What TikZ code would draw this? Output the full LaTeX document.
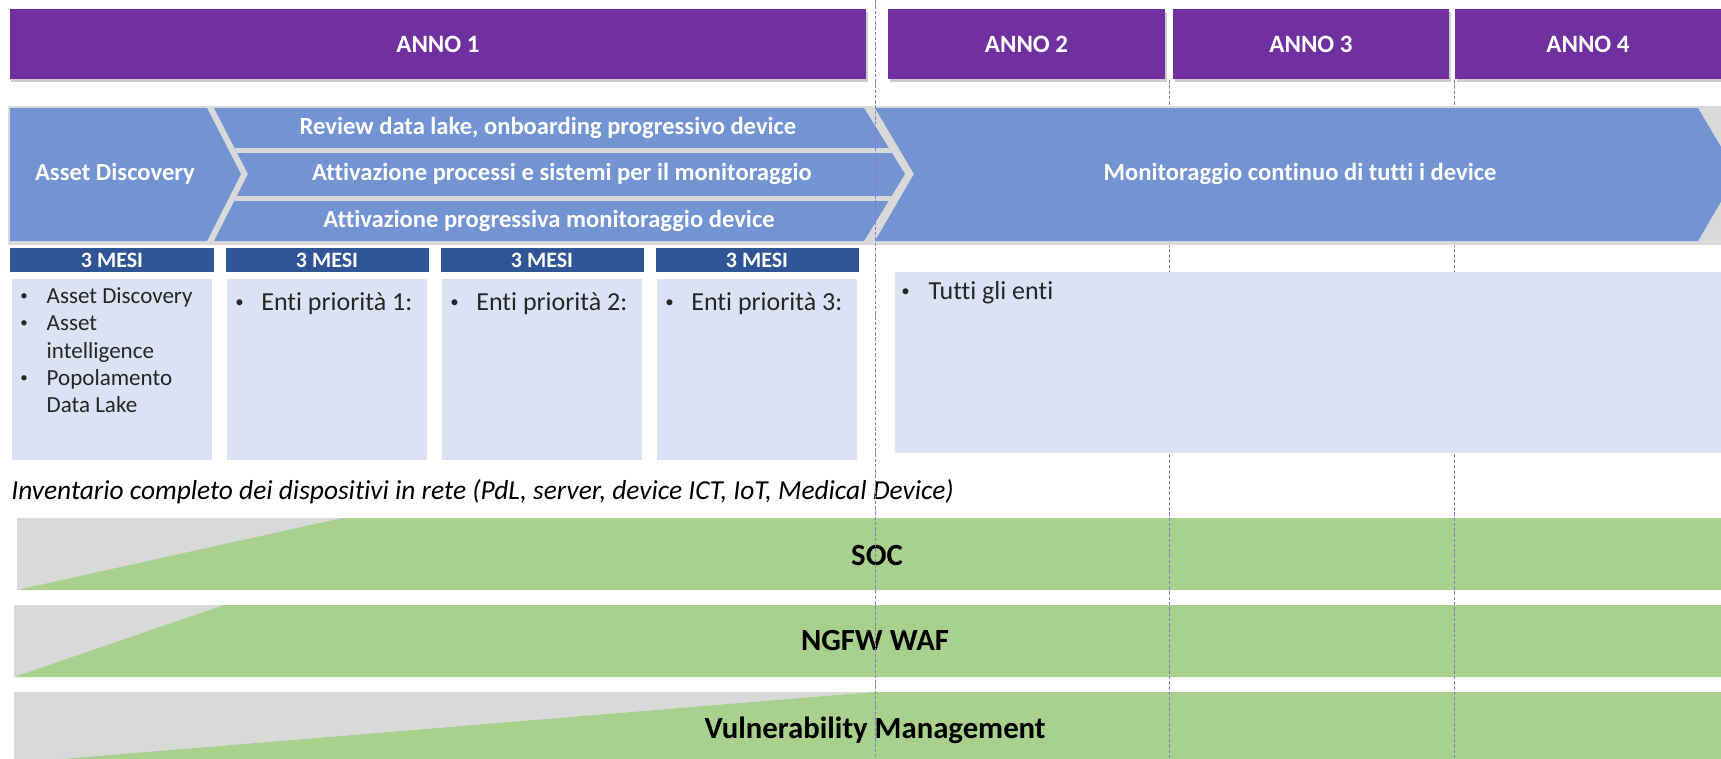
\documentclass[tikz,border=0pt]{standalone}
\usepackage{fontspec}
\usepackage{graphicx}
\setmainfont{Carlito}[Ligatures=NoCommon]
\usetikzlibrary{shapes,shadows,positioning,calc}
\definecolor{annopurple}{HTML}{7030A0}
\definecolor{chevblue}{HTML}{7294D2}
\definecolor{mesiblue}{HTML}{2F5597}
\definecolor{boxblue}{HTML}{DAE3F3}
\definecolor{bandgray}{HTML}{D9D9D9}
\definecolor{barsgreen}{HTML}{A9D18E}
\definecolor{linepurple}{HTML}{8E7CC3}
\tikzstyle{anno} = [rectangle, fill=annopurple, text=white, minimum height=14mm, inner sep=0pt, outer sep=0pt, font=\fontsize{14.2}{16}\selectfont\bfseries, drop shadow={shadow xshift=0.3mm, shadow yshift=-0.6mm, opacity=0.4}]
\tikzstyle{mesi} = [rectangle, fill=mesiblue, text=white, minimum width=40.6mm, minimum height=4.8mm, inner sep=0pt, outer sep=0pt, font=\fontsize{12.5}{14}\selectfont\bfseries]
\tikzstyle{box} = [rectangle, fill=boxblue, minimum width=40mm, minimum height=36.2mm, inner sep=0pt, outer sep=0pt]
\tikzstyle{lbl} = [text=white, inner sep=0pt, font=\fontsize{14}{16}\selectfont\bfseries]
\tikzstyle{bar} = [text=black, inner sep=0pt, font=\fontsize{17.5}{20}\selectfont\bfseries]
\tikzstyle{lst} = [anchor=north west, align=left, inner sep=0pt, text=black!85]
\tikzstyle{yearline} = [draw=linepurple, line width=0.5pt, dash pattern=on 2pt off 1pt]
\newcommand{\bul}[1][13pt]{\makebox[#1][l]{\raisebox{0.12em}{\scalebox{0.65}{\textbullet}}}}

\begin{document}
\begin{tikzpicture}[x=0.2mm, y=-0.2mm]
	\useasboundingbox (0,0) rectangle (1721,758);
	
	\node [anno, minimum width=171.2mm] (anno1) at (438,44) {ANNO 1};
	\node [anno, minimum width=55.4mm, right=4.4mm of anno1] (anno2) {ANNO 2};
	\node [anno, minimum width=55.2mm, right=1.6mm of anno2] (anno3) {ANNO 3};
	\node [anno, minimum width=53.2mm, right=1.2mm of anno3] (anno4) {ANNO 4};
	
	\fill [bandgray] (17,518) rectangle (1721,590);
	\fill [barsgreen] (17,590) -- (342,518) -- (1721,518) -- (1721,590) -- cycle;
	\fill [bandgray] (14,605) rectangle (1721,677);
	\fill [barsgreen] (14,677) -- (224,605) -- (1721,605) -- (1721,677) -- cycle;
	\fill [bandgray] (14,692) rectangle (1721,760);
	\fill [barsgreen] (50,760) -- (874,692) -- (1721,692) -- (1721,760) -- cycle;
	\draw [yearline] (1169,80) -- (1169,758);
	\draw [yearline] (1454,80) -- (1454,758);
	
	\fill [bandgray] (8,106) rectangle (1721,245);
	\fill [chevblue] (10,108) -- (207,108) -- (241,174) -- (207,241) -- (10,241) -- cycle;
	\begin{scope}
		\clip (214,108) -- (864,108) -- (905,174) -- (864,241) -- (214,241) -- (248,174) -- cycle;
		\fill [chevblue] (200,100) rectangle (920,250);
		\fill [bandgray] (200,148) rectangle (920,153);
		\fill [bandgray] (200,196) rectangle (920,201);
	\end{scope}
	\fill [chevblue] (875,108) -- (1698,108) -- (1737,174) -- (1698,241) -- (875,241) -- (914,174) -- cycle;
	
	\node [lbl] (ad) at (115,174) {Asset Discovery};
	\node [lbl] (rev) at (548,128) {Review data lake, onboarding progressivo device};
	\node [lbl] (att) at (562,174) {Attivazione processi e sistemi per il monitoraggio};
	\node [lbl] (prog) at (549,221) {Attivazione progressiva monitoraggio device};
	\node [lbl] (mon) at (1300,174) {Monitoraggio continuo di tutti i device};
	
	\node [mesi] (mesi1) at (112,260) {3 MESI};
	\node [mesi, right=2.4mm of mesi1] (mesi2) {3 MESI};
	\node [mesi, right=2.4mm of mesi2] (mesi3) {3 MESI};
	\node [mesi, right=2.4mm of mesi3] (mesi4) {3 MESI};
	\node [box, below=1.4mm of mesi1] (box1) {};
	\node [box, below=1.4mm of mesi2] (box2) {};
	\node [box, below=1.4mm of mesi3] (box3) {};
	\node [box, below=1.4mm of mesi4] (box4) {};
	\node [box, minimum width=165.2mm] (tutti) at (1308,362.5) {};
	
	\node [lst, font=\fontsize{13.1}{15.6}\selectfont] (lst1) at ($(box1.north west)+(8,8)$) {\bul[15pt]Asset Discovery\\\bul[15pt]Asset\\\hspace*{15pt}intelligence\\\bul[15pt]Popolamento\\\hspace*{15pt}Data Lake};
	\node [lst, font=\fontsize{14.8}{17}\selectfont] (lst2) at ($(box2.north west)+(8,13)$) {\bul[14.8pt]Enti priorità 1:};
	\node [lst, font=\fontsize{14.8}{17}\selectfont] (lst3) at ($(box3.north west)+(8,13)$) {\bul[14.8pt]Enti priorità 2:};
	\node [lst, font=\fontsize{14.8}{17}\selectfont] (lst4) at ($(box4.north west)+(8,13)$) {\bul[14.8pt]Enti priorità 3:};
	\node [lst, font=\fontsize{14.8}{17}\selectfont] (lst5) at ($(tutti.north west)+(6,9)$) {\bul[15.5pt]Tutti gli enti};
	
	\node [anchor=west, inner sep=0pt, font=\fontsize{15.6}{18}\selectfont\itshape] (inv) at (11,492) {Inventario completo dei dispositivi in rete (PdL, server, device ICT, IoT, Medical Device)};
	
	\node [bar] (soc) at (877,556) {SOC};
	\node [bar] (ngfw) at (875,641) {NGFW WAF};
	\node [bar] (vuln) at (875,730) {Vulnerability Management};
	
	\draw [yearline] (875,0) -- (875,758);
\end{tikzpicture}
\end{document}
